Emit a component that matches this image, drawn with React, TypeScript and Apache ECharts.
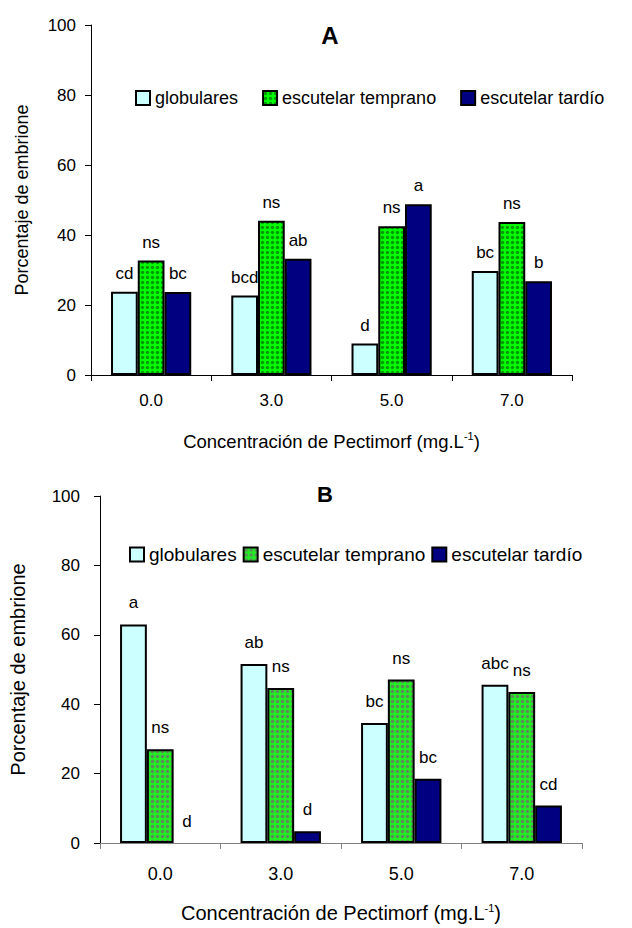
import React, { useEffect, useRef } from "react";
import * as echarts from "echarts";

const categories = ["0.0", "3.0", "5.0", "7.0"];
const seriesNames = ["globulares", "escutelar temprano", "escutelar tardío"];

const globA = [23.8, 22.7, 9.0, 29.7];
const tempA = [32.7, 44.1, 42.5, 43.7];
const tardA = [23.7, 33.2, 48.8, 26.8];
const lettersGlobA = ["cd", "bcd", "d", "bc"];
const lettersTempA = ["ns", "ns", "ns", "ns"];
const lettersTardA = ["bc", "ab", "a", "b"];

const globB = [63.0, 51.6, 34.6, 45.6];
const tempB = [27.0, 44.7, 47.1, 43.5];
const tardB = [0, 3.4, 18.5, 10.8];
const lettersGlobB = ["a", "ab", "bc", "abc"];
const lettersTempB = ["ns", "ns", "ns", "ns"];
const lettersTardB = ["d", "d", "bc", "cd"];

const yMin = 0;
const yMax = 100;
const yStep = 20;

const FONT = "'Liberation Sans', Arial, sans-serif";

function makePattern(bg: string, dot: string) {
  const c = document.createElement("canvas");
  c.width = 5;
  c.height = 5;
  const ctx = c.getContext("2d")!;
  ctx.fillStyle = bg;
  ctx.fillRect(0, 0, 5, 5);
  ctx.fillStyle = dot;
  ctx.beginPath();
  ctx.arc(2.5, 2.5, 1.7, 0, Math.PI * 2);
  ctx.fill();
  return { image: c.toDataURL(), repeat: "repeat", imageWidth: 5, imageHeight: 5 } as any;
}

function buildOption(cfg: any) {
  const colors = [cfg.c0, cfg.c1, cfg.c2];
  const values = [cfg.v0, cfg.v1, cfg.v2];
  const letters = [cfg.l0, cfg.l1, cfg.l2];
  return {
    animation: false,
    title: {
      text: cfg.title,
      left: cfg.titleX,
      top: cfg.titleY,
      textAlign: "center",
      textStyle: { fontFamily: FONT, fontSize: cfg.titleSize, fontWeight: "bold", color: "#000" },
    },
    legend: {
      left: cfg.legendX,
      top: cfg.legendY,
      itemWidth: 14,
      itemHeight: 14,
      itemGap: cfg.legendGap,
      icon: "rect",
      data: seriesNames,
      textStyle: { fontFamily: FONT, fontSize: cfg.legendFont, color: "#000" },
    },
    grid: { left: cfg.gl, right: cfg.gr, top: cfg.gt, height: cfg.gh, containLabel: false },
    xAxis: {
      type: "category",
      data: categories,
      boundaryGap: true,
      name: "{a|Concentración de Pectimorf (mg.L}{s|-1}{a|)}",
      nameLocation: "middle",
      nameGap: cfg.xNameGap,
      nameTextStyle: {
        rich: {
          a: { fontFamily: FONT, fontSize: cfg.xNameFont, color: "#000", lineHeight: 22 },
          s: { fontFamily: FONT, fontSize: 11, color: "#000", lineHeight: 22, verticalAlign: "top" },
        },
      },
      axisLine: { lineStyle: { color: cfg.xLineColor, width: 1 } },
      axisTick: { show: true, length: 6, lineStyle: { color: cfg.xLineColor } },
      axisLabel: { fontFamily: FONT, fontSize: cfg.xLabelFont, color: "#000", margin: cfg.xLabelMargin },
    },
    yAxis: {
      type: "value",
      min: yMin,
      max: yMax,
      interval: yStep,
      name: "Porcentaje de embrione",
      nameLocation: "middle",
      nameRotate: 90,
      nameGap: cfg.yNameGap,
      nameTextStyle: { fontFamily: FONT, fontSize: cfg.yNameFont, color: "#000" },
      axisLine: { show: true, lineStyle: { color: "#000", width: 1 } },
      axisTick: { show: true, length: 6, lineStyle: { color: "#000" } },
      splitLine: { show: false },
      axisLabel: { fontFamily: FONT, fontSize: 17, color: "#000", margin: cfg.yLabelMargin },
    },
    series: seriesNames.map((name, i) => ({
      type: "bar",
      name,
      barGap: "0%",
      barCategoryGap: "33.3%",
      data: values[i].map((v: number) =>
        v === 0 ? { value: v, itemStyle: { borderWidth: 0 } } : v
      ),
      itemStyle: { color: colors[i], borderColor: "#000", borderWidth: 2 },
      label: {
        show: true,
        position: "top",
        distance: cfg.labelDist,
        fontFamily: FONT,
        fontSize: 17,
        color: "#000",
        formatter: (p: any) => letters[i][p.dataIndex],
      },
    })),
  };
}

function Chart({ cfgFn, style }: { cfgFn: () => any; style: React.CSSProperties }) {
  const ref = useRef<HTMLDivElement>(null);
  useEffect(() => {
    if (!ref.current) return;
    const chart = echarts.init(ref.current, null, { renderer: "svg" });
    chart.setOption(buildOption(cfgFn()));
    return () => chart.dispose();
  }, []);
  return <div ref={ref} style={style} />;
}

export default function App() {
  const cfgA = () => ({
    title: "A", titleX: 325, titleY: 18, titleSize: 24,
    legendX: 130, legendY: 84, legendGap: 24, legendFont: 18,
    gl: 91, gr: 60, gt: 25, gh: 350,
    xNameGap: 55, xNameFont: 18.5, xLineColor: "#000", xLabelMargin: 17, xLabelFont: 17,
    yNameGap: 60, yNameFont: 18, yLabelMargin: 15,
    labelDist: 10,
    c0: "#ccffff", c1: makePattern("#00ff00", "#009a00"), c2: "#000080",
    v0: globA, v1: tempA, v2: tardA,
    l0: lettersGlobA, l1: lettersTempA, l2: lettersTardA,
  });
  const cfgB = () => ({
    title: "B", titleX: 320, titleY: 14, titleSize: 22,
    legendX: 124, legendY: 76, legendGap: 6, legendFont: 19,
    gl: 100, gr: 50, gt: 32, gh: 352,
    xNameGap: 59, xNameFont: 20, xLineColor: "#808080", xLabelMargin: 22, xLabelFont: 18,
    yNameGap: 72, yNameFont: 20, yLabelMargin: 20,
    labelDist: 13,
    c0: "#ccffff", c1: makePattern("#22ee22", "#5c8c5c"), c2: "#000080",
    v0: globB, v1: tempB, v2: tardB,
    l0: lettersGlobB, l1: lettersTempB, l2: lettersTardB,
  });
  return (
    <div style={{ position: "fixed", left: 0, top: 0, width: 632, height: 928, background: "#fff" }}>
      <Chart cfgFn={cfgA} style={{ position: "absolute", left: 0, top: 0, width: 632, height: 464 }} />
      <Chart cfgFn={cfgB} style={{ position: "absolute", left: 0, top: 464, width: 632, height: 464 }} />
    </div>
  );
}
